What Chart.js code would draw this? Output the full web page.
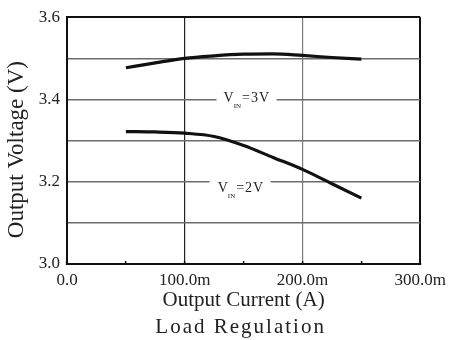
<!DOCTYPE html>
<html>
<head>
<meta charset="utf-8">
<script src="https://cdn.jsdelivr.net/npm/chart.js@4/dist/chart.umd.min.js"></script>
<style>
  html, body { margin: 0; padding: 0; background: #fff; }
  #wrap { width: 455px; height: 340px; }
</style>
</head>
<body>
<div id="wrap"><canvas id="chart-load" width="455" height="340"></canvas></div>
<script>
// load regulation, output current in mA
const currentMA = [50, 75, 100, 125, 150, 175, 200, 225, 250];
const vout3V = [3.477, 3.489, 3.500, 3.506, 3.510, 3.511, 3.507, 3.502, 3.498];
const vout2V = [3.322, 3.321, 3.318, 3.310, 3.288, 3.259, 3.230, 3.195, 3.160];

const xTickValues = [0, 100, 200, 300];
const xTickLabels = ['0.0', '100.0m', '200.0m', '300.0m'];
const yTickValues = [3.0, 3.2, 3.4, 3.6];
const yTickLabels = ['3.0', '3.2', '3.4', '3.6'];

const serif = '"Liberation Serif", "Times New Roman", serif';

// curve labels sitting on a gridline (gap cut out of the line)
const lineLabels = [
  { main: 'V', sub: 'IN', rest: '=3V', lineAt: 3.4, gapFrom: 127, gapTo: 178, textX: 133, textY: 3.394 },
  { main: 'V', sub: 'IN', rest: '=2V', lineAt: 3.2, gapFrom: 121, gapTo: 173, textX: 128, textY: 3.176 }
];

const toPoints = (xs, ys) => xs.map((x, i) => ({ x, y: ys[i] }));
const near = (a, b) => Math.abs(a - b) < 1e-6;

const gridLabels = {
  id: 'gridLabels',
  beforeDatasetsDraw(chart) {
    const { ctx, scales: { x, y } } = chart;
    ctx.save();
    lineLabels.forEach(l => {
      const gy = y.getPixelForValue(l.lineAt);
      const x0 = x.getPixelForValue(l.gapFrom);
      const x1 = x.getPixelForValue(l.gapTo);
      ctx.fillStyle = '#fff';
      ctx.fillRect(x0, gy - 2, x1 - x0, 4);

      let tx = x.getPixelForValue(l.textX);
      const ty = y.getPixelForValue(l.textY);
      ctx.fillStyle = '#222';
      ctx.textBaseline = 'alphabetic';
      ctx.textAlign = 'left';
      ctx.letterSpacing = '1px';
      ctx.font = '14px ' + serif;
      ctx.fillText(l.main, tx, ty);
      tx += ctx.measureText(l.main).width - 1;
      ctx.font = '7px ' + serif;
      ctx.letterSpacing = '0px';
      ctx.fillText(l.sub, tx, ty + 6);
      tx += ctx.measureText(l.sub).width + 1;
      ctx.font = '14px ' + serif;
      ctx.letterSpacing = '1px';
      ctx.fillText(l.rest, tx, ty);
    });
    ctx.restore();
  },
  afterDraw(chart) {
    const { ctx, chartArea } = chart;
    ctx.save();
    ctx.fillStyle = '#222';
    ctx.textAlign = 'center';
    ctx.textBaseline = 'middle';
    ctx.font = '21px ' + serif;
    ctx.letterSpacing = '2px';
    ctx.fillText('Load Regulation', (chartArea.left + chartArea.right) / 2 - 3, chart.height - 13);

    // y axis title, a little below the plot centre as in the original
    ctx.letterSpacing = '0px';
    ctx.font = '23px ' + serif;
    ctx.translate(17, (chartArea.top + chartArea.bottom) / 2 + 9);
    ctx.rotate(-Math.PI / 2);
    ctx.fillText('Output Voltage (V)', 0, 0);
    ctx.restore();
  }
};

Chart.defaults.font.family = serif;
Chart.defaults.color = '#222';

new Chart(document.getElementById('chart-load'), {
  type: 'line',
  data: {
    datasets: [
      { label: 'VIN=3V', data: toPoints(currentMA, vout3V), borderColor: '#111', borderWidth: 3.2, pointRadius: 0, cubicInterpolationMode: 'monotone', fill: false },
      { label: 'VIN=2V', data: toPoints(currentMA, vout2V), borderColor: '#111', borderWidth: 3.2, pointRadius: 0, cubicInterpolationMode: 'monotone', fill: false }
    ]
  },
  options: {
    responsive: false,
    devicePixelRatio: 1,
    animation: false,
    layout: { padding: { left: 0, top: 14, right: 34, bottom: 25 } },
    plugins: { legend: { display: false }, tooltip: { enabled: false } },
    scales: {
      x: {
        type: 'linear',
        min: 0,
        max: 300,
        afterFit: s => { s.height = 51; },
        border: { color: '#111', width: 2 },
        grid: {
          color: c => {
            const v = c.tick.value;
            if (near(v, 100)) return '#222';
            if (near(v, 300)) return '#111';
            if (near(v, 200)) return '#7a7a7a';
            return 'rgba(0,0,0,0)';
          },
          lineWidth: c => near(c.tick.value, 300) ? 2 : 1.2,
          tickColor: '#111',
          tickLength: -3,
          tickWidth: 1.5
        },
        ticks: {
          stepSize: 50,
          autoSkip: false,
          maxRotation: 0,
          padding: 9,
          font: { size: 17 },
          callback: v => {
            const i = xTickValues.findIndex(t => near(t, v));
            return i >= 0 ? xTickLabels[i] : '';
          }
        },
        title: { display: true, text: 'Output Current (A)', font: { size: 21 }, color: '#222', padding: { top: 0, bottom: 2 } }
      },
      y: {
        min: 3.0,
        max: 3.6,
        afterFit: s => { s.width = 67; },
        border: { color: '#111', width: 2 },
        grid: {
          color: c => near(c.tick.value, 3.6) ? '#111' : '#6c6c6c',
          lineWidth: c => near(c.tick.value, 3.6) ? 2 : 1.4,
          drawTicks: false
        },
        ticks: {
          stepSize: 0.1,
          padding: 7,
          font: { size: 17 },
          callback: v => {
            const i = yTickValues.findIndex(t => near(t, v));
            return i >= 0 ? yTickLabels[i] : '';
          }
        }
      }
    }
  },
  plugins: [gridLabels]
});
</script>
</body>
</html>
